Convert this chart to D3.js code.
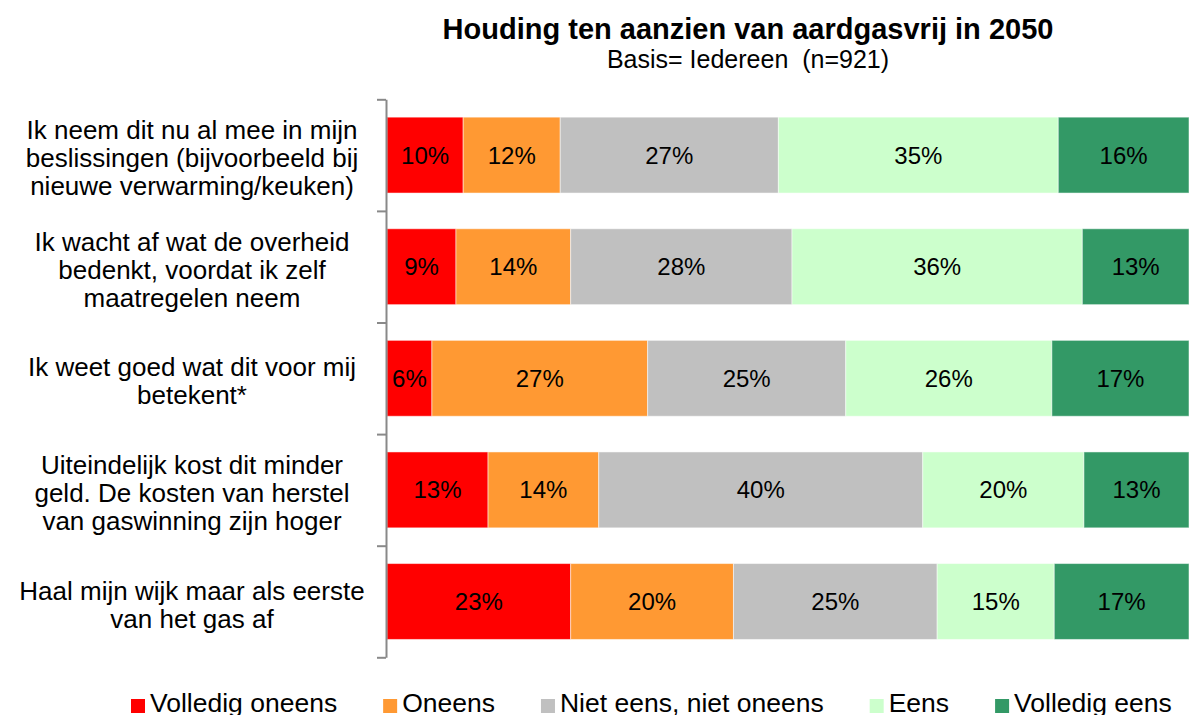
<!DOCTYPE html>
<html>
<head>
<meta charset="utf-8">
<script src="https://cdn.jsdelivr.net/npm/d3@7"></script>
<style>
  body { margin: 0; background: #fff; }
  svg { display: block; font-family: "Liberation Sans", Arial, sans-serif; }
</style>
</head>
<body>
<div id="chart"></div>
<script>
// Categories (statements), one entry per bar, lines as shown
var categories = [
    ["Ik neem dit nu al mee in mijn", "beslissingen (bijvoorbeeld bij", "nieuwe verwarming/keuken)"],
    ["Ik wacht af wat de overheid", "bedenkt, voordat ik zelf", "maatregelen neem"],
    ["Ik weet goed wat dit voor mij", "betekent*"],
    ["Uiteindelijk kost dit minder", "geld. De kosten van herstel", "van gaswinning zijn hoger"],
    ["Haal mijn wijk maar als eerste", "van het gas af"]
];

// Answer series
var seriesNames = ["Volledig oneens", "Oneens", "Niet eens, niet oneens", "Eens", "Volledig eens"];
var seriesColors = ["#ff0000", "#ff9933", "#c0c0c0", "#ccffcc", "#339966"];

// Percentages per statement
var volledigOneens = [9.5, 8.6, 5.6, 12.6, 22.9];
var oneens         = [12.1, 14.3, 26.9, 13.8, 20.3];
var neutraal       = [27.2, 27.6, 24.7, 40.4, 25.4];
var eens           = [34.9, 36.2, 25.7, 20.1, 14.6];
var volledigEens   = [16.3, 13.3, 17.1, 13.1, 16.8];

var title = "Houding ten aanzien van aardgasvrij in 2050";
var subtitle = "Basis= Iedereen  (n=921)";

// Chart size
var svgWidth = 1189;
var svgHeight = 715;
var plotLeft = 387;
var plotRight = 1189;
var plotTop = 99.3;
var plotBottom = 657.3;

var svg = d3.select("#chart")
    .append("svg")
    .attr("width", svgWidth)
    .attr("height", svgHeight);

var allSeries = [volledigOneens, oneens, neutraal, eens, volledigEens];
var rows = categories.map(function(c, i) {
    var x0 = 0;
    return allSeries.map(function(s, k) {
        var d = { row: i, key: k, start: x0, value: s[i] };
        x0 += s[i];
        return d;
    });
});

var xScale = d3.scaleLinear().domain([0, 100]).range([plotLeft, plotRight]);
var yScale = d3.scaleBand()
    .domain(d3.range(categories.length))
    .range([plotTop, plotBottom])
    .paddingInner(0.32)
    .paddingOuter(0.16);

// Bars
var rowGroups = svg.append("g").selectAll("g")
    .data(rows)
    .enter()
    .append("g");

rowGroups.selectAll("rect")
    .data(d => d)
    .enter()
    .append("rect")
    .attr("x", d => xScale(d.start))
    .attr("y", d => yScale(d.row))
    .attr("width", d => xScale(d.start + d.value) - xScale(d.start))
    .attr("height", yScale.bandwidth())
    .attr("fill", d => seriesColors[d.key])
    .attr("stroke", "#ffffff")
    .attr("stroke-opacity", 0.5)
    .attr("stroke-width", 1);

// Value labels
rowGroups.selectAll("text")
    .data(d => d)
    .enter()
    .append("text")
    .attr("x", d => (xScale(d.start) + Math.min(xScale(d.start + d.value), plotRight)) / 2)
    .attr("y", d => yScale(d.row) + yScale.bandwidth() / 2 + 8.5)
    .attr("text-anchor", "middle")
    .style("font-size", "24px")
    .attr("fill", "#000")
    .text(d => Math.round(d.value) + "%");

// Left axis with ticks at band boundaries
var edgeScale = d3.scaleLinear().domain([0, categories.length]).range([plotTop, plotBottom]);
var leftAxis = d3.axisLeft(edgeScale)
    .tickValues(d3.range(categories.length + 1))
    .tickFormat("")
    .tickSizeInner(9)
    .tickSizeOuter(0);
var axisG = svg.append("g")
    .attr("transform", `translate(${plotLeft - 1}, 0)`)
    .call(leftAxis);
axisG.selectAll("path, line")
    .attr("stroke", "#898989")
    .attr("stroke-width", 2);

// Category labels
var catLabels = svg.append("g").selectAll("text")
    .data(categories)
    .enter()
    .append("text")
    .attr("text-anchor", "middle")
    .style("font-size", "26px")
    .attr("fill", "#000");

catLabels.each(function(lines, i) {
    var cy = yScale(i) + yScale.bandwidth() / 2;
    d3.select(this).selectAll("tspan")
        .data(lines)
        .enter()
        .append("tspan")
        .attr("x", 192)
        .attr("y", (l, j) => cy + (j - (lines.length - 1) / 2) * 28 + 12)
        .text(l => l);
});

// Title and subtitle
svg.append("text")
    .attr("x", 748)
    .attr("y", 39)
    .attr("text-anchor", "middle")
    .style("font-size", "29px")
    .style("font-weight", "bold")
    .text(title);

svg.append("text")
    .attr("x", 748)
    .attr("y", 68)
    .attr("text-anchor", "middle")
    .style("font-size", "25px")
    .style("white-space", "pre")
    .text(subtitle);

// Legend
var legend = svg.append("g");
var lx = 131;
seriesNames.forEach(function(name, k) {
    legend.append("rect")
        .attr("x", lx)
        .attr("y", 699)
        .attr("width", 14)
        .attr("height", 14)
        .attr("fill", seriesColors[k]);
    var t = legend.append("text")
        .attr("x", lx + 19)
        .attr("y", 712)
        .style("font-size", "26.5px")
        .text(name);
    lx += 19 + t.node().getComputedTextLength() + 46;
});
</script>
</body>
</html>
